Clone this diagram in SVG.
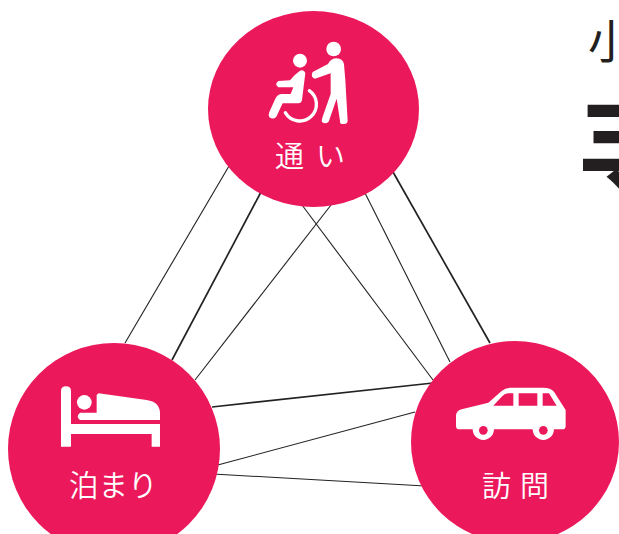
<svg xmlns="http://www.w3.org/2000/svg" width="619" height="534" viewBox="0 0 619 534">
<style>
.n{fill:#ec185c}
.i{fill:#fff}
.s{stroke:#fff;fill:none;stroke-linecap:round;stroke-linejoin:round}
.l{fill:#fff;font-family:"Noto Sans CJK JP",sans-serif;font-weight:350}
.c line{stroke:#222;stroke-width:1.1}
.c .t{stroke-width:1.7}
.h{fill:#231f20;font-family:"Noto Sans CJK JP",sans-serif}
</style>
<defs><clipPath id="smallclip"><rect x="570" y="10" width="45" height="60"/></clipPath></defs>
<rect width="619" height="534" fill="#fff"/>
<g id="connectors" class="c">
<line x1="229" y1="166" x2="125" y2="343"/>
<line class="t" x1="261" y1="192" x2="172" y2="360"/>
<line x1="331" y1="205" x2="195" y2="380"/>
<line x1="302" y1="205" x2="433" y2="380"/>
<line x1="365" y1="193" x2="450" y2="362"/>
<line class="t" x1="393" y1="172" x2="490" y2="343"/>
<line class="t" x1="212" y1="407" x2="433" y2="383"/>
<line x1="214" y1="466" x2="415" y2="412"/>
<line x1="213" y1="474" x2="425" y2="486"/>
</g>
<g id="node-kayoi">
<ellipse class="n" cx="313.500" cy="109" rx="105.500" ry="98"/>
<g transform="translate(200 0) scale(.3333)">
<circle class="i" cx="300" cy="182" r="21"/>
<circle class="i" cx="401" cy="147" r="22"/>
<path class="i" d="M235 243L270 241Q285 222 300 212Q312 208 316 220L306 300Q304 310 295 310H248L229 350Q220 360 208 352Q204 346 208 336L226 296Q232 282 246 282H272L280 262H235Q222 253 235 243Z"/>
<path class="s" stroke-width="10" d="M328 272A50 50 0 1 1 256 338"/>
<path class="i" d="M338 216L384 192Q392 175 410 175Q428 176 432 192L436 240L443 362Q442 372 432 372H425Q420 372 420 362L410 296L386 365Q376 374 366 366Q364 360 368 350L392 282L392 220L345 236Q330 232 338 216Z"/>
</g>
<text class="l" x="275" y="167" font-size="29" letter-spacing="12">通い</text>
</g>
<g id="node-tomari">
<ellipse class="n" cx="114" cy="449" rx="106" ry="106"/>
<g transform="translate(0 340) scale(.3333)">
<path class="i" d="M183 153Q183 139 198 139Q213 139 213 153V252H480V320H455V282H213V320H183Z"/>
<circle class="i" cx="253" cy="187" r="22"/>
<path class="i" d="M296 160L440 180Q480 186 480 220V240H240Q226 230 240 218H290V165Z"/>
</g>
<text class="l" x="69" y="496" font-size="29.500">泊まり</text>
</g>
<g id="node-houmon">
<ellipse class="n" cx="515" cy="442" rx="104" ry="101"/>
<g transform="translate(400 340) scale(.3333)">
<path class="i" fill-rule="evenodd" d="M168 225Q170 212 185 208L265 188L305 153Q316 143 332 143H430Q452 143 462 155L497 210V258Q497 268 487 268H462A32 32 0 0 1 398 268H282A32 32 0 0 1 218 268H178Q168 268 168 258ZM280 197H340V160H325Q315 160 305 170ZM356 197H412V160H356ZM428 197H470L447 160H428Z"/>
<circle class="n" cx="250" cy="271" r="13"/>
<circle class="n" cx="430" cy="271" r="13"/>
</g>
<text class="l" x="482" y="497" font-size="29" letter-spacing="9">訪問</text>
</g>
<text class="h" x="588" y="58" font-size="46" clip-path="url(#smallclip)">小</text>
<text class="h" x="578" y="167" font-size="82" font-weight="900">三</text>
<text class="h" x="590" y="212" font-size="68" font-weight="900">ヽ</text>
</svg>
